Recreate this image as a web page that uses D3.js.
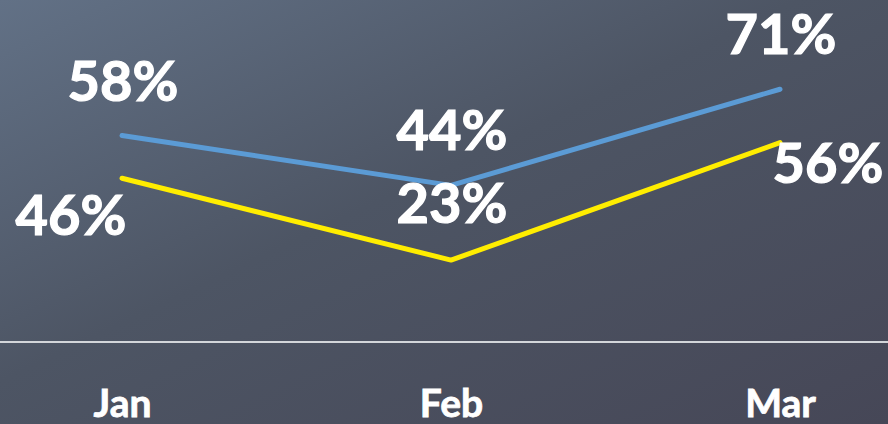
<!DOCTYPE html>
<html>
<head>
<meta charset="utf-8">
<script src="https://cdn.jsdelivr.net/npm/d3@7"></script>
<style>
	html, body { margin: 0; padding: 0; overflow: hidden; }
	svg { display: block; }
</style>
</head>
<body>
<div id="chart"></div>
<script>
// chart data
const months = ["Jan", "Feb", "Mar"];
const seriesBlue = [58, 44, 71];
const seriesYellow = [46, 23, 56];
// where each yellow label sits relative to its point
const yellowLabelPos = ["below-left", "above", "below-right"];

let width = 888;
let height = 424;

let svg = d3.select('#chart')
	.append('svg')
	.attr('width', width)
	.attr('height', height);

let defs = svg.append('defs');
let grad = defs.append('linearGradient')
	.attr('id', 'bg')
	.attr('x1', 0).attr('y1', 0)
	.attr('x2', 1).attr('y2', 1);
grad.append('stop').attr('offset', '0%').attr('stop-color', '#627186');
grad.append('stop').attr('offset', '45%').attr('stop-color', '#4d5564');
grad.append('stop').attr('offset', '100%').attr('stop-color', '#464757');

svg.append('rect')
	.attr('width', width)
	.attr('height', height)
	.attr('fill', 'url(#bg)');

let x = d3.scalePoint()
	.domain(months)
	.range([122, 780]);

let y = d3.scaleLinear()
	.domain([0, 100])
	.range([342, -14]);

// baseline
svg.append('line')
	.attr('x1', 0)
	.attr('x2', width)
	.attr('y1', y(0))
	.attr('y2', y(0))
	.attr('stroke', '#d3d6da')
	.attr('stroke-width', 2);

let xAxis = d3.axisBottom(x).tickSize(0).tickPadding(0);
let axisG = svg.append('g')
	.attr('transform', 'translate(0,' + y(0) + ')')
	.call(xAxis);
axisG.select('.domain').remove();
axisG.selectAll('text')
	.attr('dy', null)
	.attr('y', 75)
	.attr('fill', '#ffffff')
	.attr('stroke', '#ffffff')
	.attr('stroke-width', 0.8)
	.style('font-family', 'Lato, "Open Sans", sans-serif')
	.style('font-weight', 'bold')
	.style('font-size', '39px');

let line = d3.line()
	.x((d, i) => x(months[i]))
	.y(d => y(d));

svg.append('path')
	.datum(seriesBlue)
	.attr('d', line)
	.attr('fill', 'none')
	.attr('stroke', '#5b9bd5')
	.attr('stroke-width', 5)
	.attr('stroke-linecap', 'round')
	.attr('stroke-linejoin', 'round');

svg.append('path')
	.datum(seriesYellow)
	.attr('d', line)
	.attr('fill', 'none')
	.attr('stroke', '#ffed00')
	.attr('stroke-width', 5)
	.attr('stroke-linecap', 'round')
	.attr('stroke-linejoin', 'round');

function labelStyle(sel) {
	sel.attr('fill', '#ffffff')
		.attr('stroke', '#ffffff')
		.attr('stroke-width', 1.2)
		.attr('text-anchor', 'middle')
		.style('font-family', 'Lato, "Open Sans", sans-serif')
		.style('font-weight', 'bold')
		.style('font-size', '56px');
}

svg.selectAll('.lblBlue')
	.data(seriesBlue)
	.enter()
	.append('text')
	.attr('class', 'lblBlue')
	.attr('x', (d, i) => x(months[i]) + 1)
	.attr('y', d => y(d) - 35)
	.text(d => d + '%')
	.call(labelStyle);

let offsets = {
	'below-left': [-51, 57],
	'above': [1, -37],
	'below-right': [48, 40]
};

svg.selectAll('.lblYellow')
	.data(seriesYellow)
	.enter()
	.append('text')
	.attr('class', 'lblYellow')
	.attr('x', (d, i) => x(months[i]) + offsets[yellowLabelPos[i]][0])
	.attr('y', (d, i) => y(d) + offsets[yellowLabelPos[i]][1])
	.text(d => d + '%')
	.call(labelStyle);
</script>
</body>
</html>
